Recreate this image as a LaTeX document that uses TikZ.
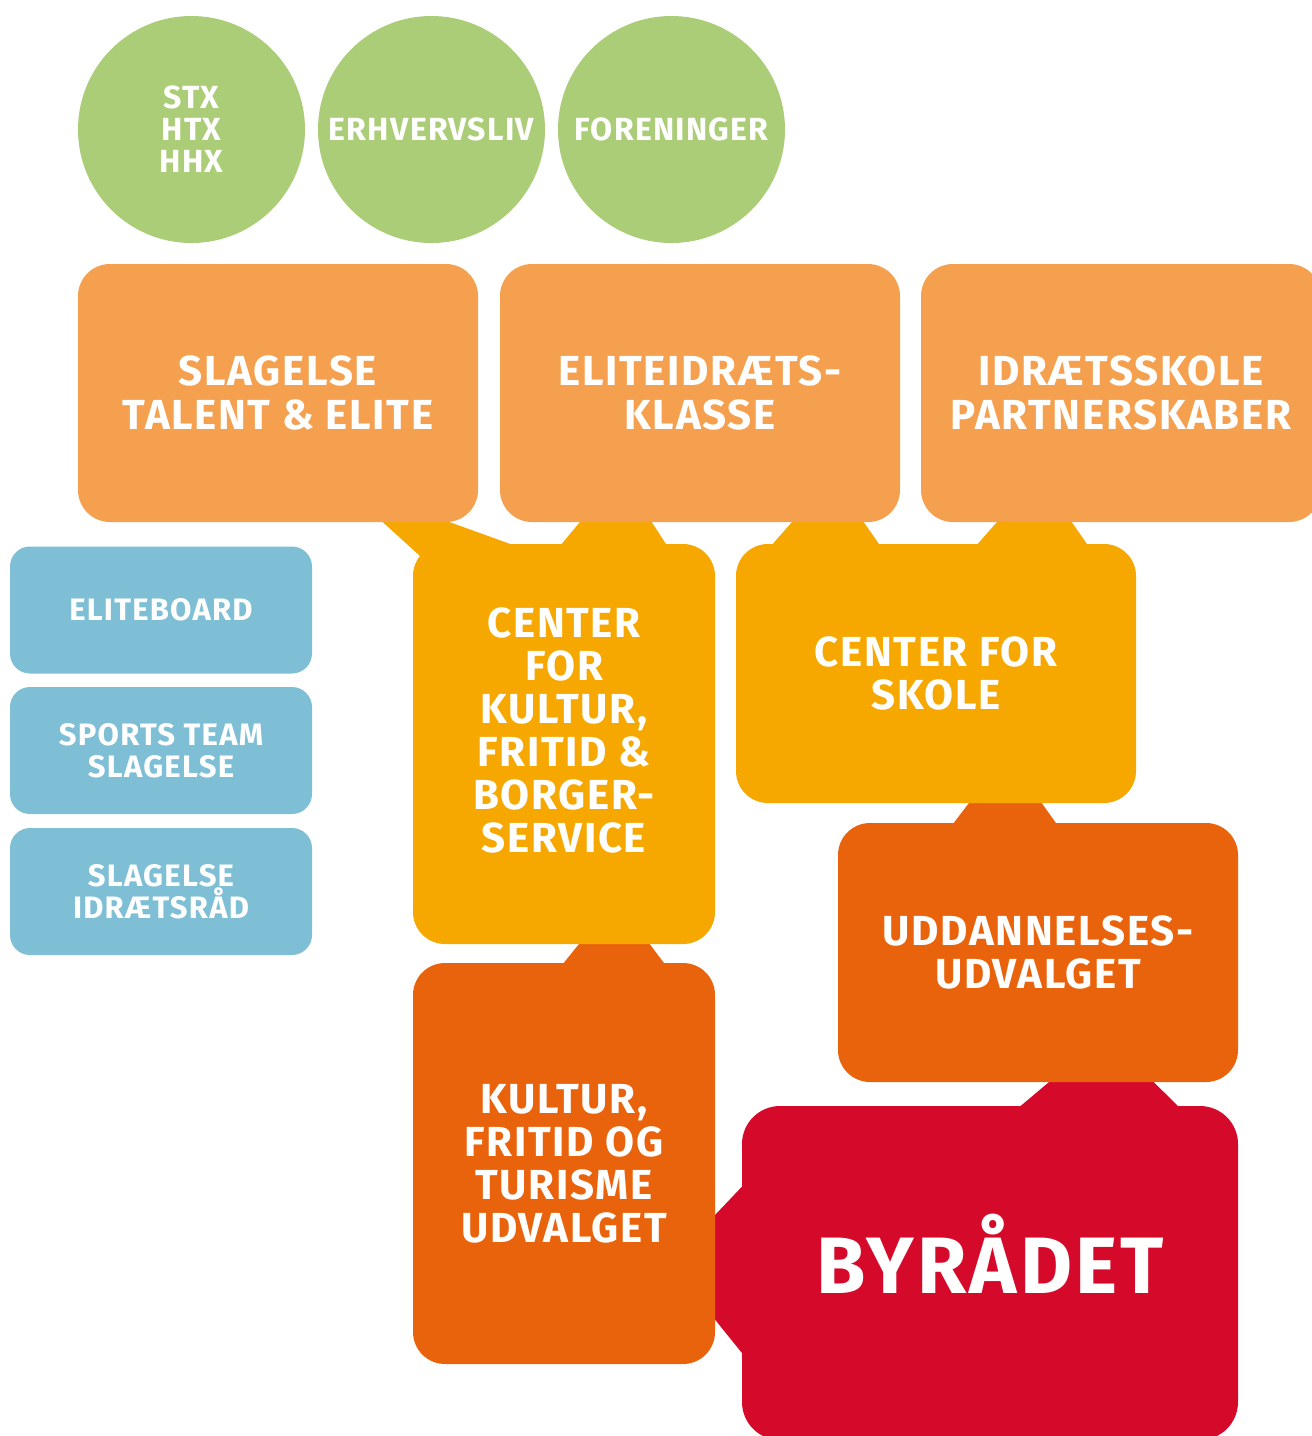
\documentclass[tikz,border=0pt]{standalone}
\usepackage{fontspec}
\setmainfont{Fira Sans}[LetterSpace=4]
\usetikzlibrary{calc,backgrounds}

\definecolor{gball}{HTML}{ABCD78}
\definecolor{lorange}{HTML}{F4A04E}
\definecolor{yorange}{HTML}{F6A800}
\definecolor{dorange}{HTML}{E9630C}
\definecolor{rbyraad}{HTML}{D50A2A}
\definecolor{bteam}{HTML}{7FBFD6}

\begin{document}
\begin{tikzpicture}[x=1pt, y=-1pt,
	ball/.style={shape=circle, fill=gball, minimum size=227pt, inner sep=0pt, align=center, text=white, font=\fontsize{32}{32}\selectfont\bfseries},
	topbox/.style={shape=rectangle, fill=lorange, rounded corners=32pt, minimum width=400pt, minimum height=258pt, inner sep=0pt, align=center, text=white, font=\fontsize{42}{44}\selectfont\bfseries},
	sidebox/.style={shape=rectangle, fill=bteam, rounded corners=20pt, minimum width=302pt, minimum height=127pt, inner sep=0pt, align=center, text=white, font=\fontsize{31}{32}\selectfont\bfseries},
	midbox/.style={shape=rectangle, rounded corners=32pt, inner sep=0pt, align=center, text=white, font=\fontsize{42}{43}\selectfont\bfseries}]
	\useasboundingbox (0,0) rectangle (1312,1436);

	\node[ball] (g_stx) at (191.5,129.5) {STX\\HTX\\HHX};
	\node[ball] (g_erhverv) at (431.5,129.5) {ERHVERVSLIV};
	\node[ball] (g_foren) at (671.5,129.5) {FORENINGER};

	\node[topbox] (o_talent) at (278,393) {SLAGELSE\\TALENT \& ELITE};
	\node[topbox] (o_klasse) at (700,393) {ELITEIDRÆTS-\\KLASSE};
	\node[topbox] (o_partner) at (1121,393) {IDRÆTSSKOLE\\PARTNERSKABER};

	\node[sidebox] (b_elite) at (161,610) {ELITEBOARD};
	\node[sidebox] (b_sports) at (161,750.5) {SPORTS TEAM\\SLAGELSE};
	\node[sidebox] (b_raad) at (161,891.5) {SLAGELSE\\IDRÆTSRÅD};

	\node[midbox, fill=yorange, minimum width=302pt, minimum height=400pt, text depth=27pt] (y_kultur) at (564,744) {CENTER\\FOR\\KULTUR,\\FRITID \&\\BORGER-\\SERVICE};
	\node[midbox, fill=yorange, minimum width=400pt, minimum height=259pt] (y_skole) at (936,673.5) {CENTER FOR\\SKOLE};
	\node[midbox, fill=dorange, minimum width=400pt, minimum height=259pt] (u_udd) at (1038,952.5) {UDDANNELSES-\\UDVALGET};
	\node[midbox, fill=dorange, minimum width=302pt, minimum height=401pt] (u_kultur) at (564,1163.5) {KULTUR,\\FRITID OG\\TURISME\\UDVALGET};
	\node[midbox, fill=rbyraad, rounded corners=38pt, minimum width=496pt, minimum height=334pt, text depth=38pt, font=\fontsize{80}{80}\selectfont\bfseries] (r_byraad) at (990,1273) {BYRÅDET};

	\begin{pgfonlayer}{background}
		\fill[yorange] ($(o_talent.south west)+(305,0)$) -- ++(0,-6) -- ++(67,0) -- ++(0,6) -- ($(y_kultur.north west)+(97,0)$) -- ++(0,46) -- ++(-70,0) -- ($(y_kultur.north west)+(7,12)$) -- cycle;
		\fill[yorange] ($(o_klasse.south west)+(80,0)$) -- ++(0,-6) -- ++(72,0) -- ++(0,6) -- ($(y_kultur.north west)+(253,0)$) -- ++(0,10) -| ($(y_kultur.north west)+(149,0)$) -- cycle;
		\fill[yorange] ($(o_klasse.south west)+(292,0)$) -- ++(0,-6) -- ++(72,0) -- ++(0,6) -- ($(y_skole.north west)+(143,0)$) -- ++(0,10) -| ($(y_skole.north west)+(37,0)$) -- cycle;
		\fill[yorange] ($(o_partner.south west)+(76,0)$) -- ++(0,-6) -- ++(75,0) -- ++(0,6) -- ($(y_skole.north west)+(351,0)$) -- ++(0,10) -| ($(y_skole.north west)+(242,0)$) -- cycle;
		\fill[dorange] ($(y_skole.south west)+(233,0)$) -- ++(0,-6) -- ++(73,0) -- ++(0,6) -- ($(u_udd.north west)+(218,0)$) -- ++(0,10) -| ($(u_udd.north west)+(116,0)$) -- cycle;
		\fill[dorange] ($(y_kultur.south west)+(166,0)$) -- ++(0,-6) -- ++(71,0) -- ++(0,6) -- ($(u_kultur.north west)+(251,0)$) -- ++(0,10) -| ($(u_kultur.north west)+(151,0)$) -- cycle;
		\fill[rbyraad] ($(u_udd.south west)+(211,0)$) -- ++(0,-6) -- ++(105,0) -- ++(0,6) -- ($(r_byraad.north west)+(436,0)$) -- ++(0,10) -| ($(r_byraad.north west)+(279,0)$) -- cycle;
		\fill[rbyraad] ($(u_kultur.north east)+(0,252)$) -- ++(-6,0) -- ++(0,105) -- ++(6,0) -- ($(r_byraad.north west)+(0,247)$) -- ++(10,0) |- ($(r_byraad.north west)+(0,81)$) -- cycle;
	\end{pgfonlayer}
\end{tikzpicture}
\end{document}
